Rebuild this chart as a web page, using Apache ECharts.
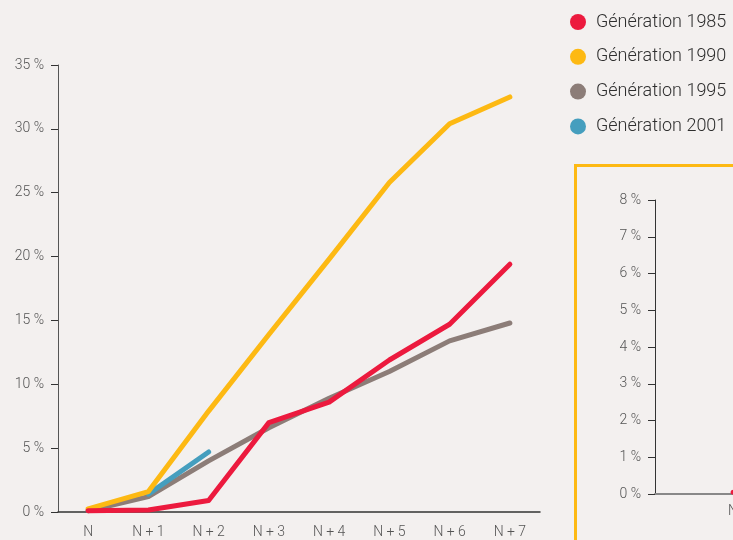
<!DOCTYPE html>
<html>
<head>
<meta charset="utf-8">
<script src="https://cdn.jsdelivr.net/npm/echarts@6/dist/echarts.min.js"></script>
<style>
  html, body { margin: 0; padding: 0; background: #f3f0ef; }
  #chart { width: 733px; height: 540px; }
</style>
</head>
<body>
<div id="chart"></div>
<script>
var categories = ['N', 'N + 1', 'N + 2', 'N + 3', 'N + 4', 'N + 5', 'N + 6', 'N + 7'];
var gen1985 = [0.1, 0.15, 0.9, 7.0, 8.6, 11.9, 14.7, 19.4];
var gen1990 = [0.25, 1.6, 7.9, 13.9, 19.8, 25.8, 30.4, 32.5];
var gen1995 = [0.1, 1.2, 4.0, 6.6, 8.9, 11.0, 13.4, 14.8];
var gen2001 = ['-', 1.4, 4.7];
var insetCategories = ['N', 'N + 1', 'N + 2', 'N + 3'];
var inset1985 = [0.05, 0.1];

chart01();
function chart01(){
  var myChart = echarts.init(document.getElementById('chart'));
  var font = 'Roboto';
  function line(name, data, color, z, xi, yi){
    return {
      name: name,
      type: 'line',
      xAxisIndex: xi || 0,
      yAxisIndex: yi || 0,
      data: data,
      z: z,
      symbol: 'none',
      silent: true,
      lineStyle: { width: 5, color: color, cap: 'round', join: 'round' },
      itemStyle: { color: color }
    };
  }
  var option = {
    backgroundColor: '#f3f0ef',
    animation: false,
    textStyle: { fontFamily: font },
    legend: {
      orient: 'vertical',
      left: 565,
      top: 8,
      icon: 'circle',
      itemWidth: 16,
      itemHeight: 16,
      itemGap: 16.8,
      textStyle: { color: '#2e2e2e', fontSize: 18, fontWeight: 300, fontFamily: font, padding: [0, 0, 0, 5] },
      data: ['Génération 1985', 'Génération 1990', 'Génération 1995', 'Génération 2001']
    },
    graphic: [{
      type: 'rect',
      shape: { x: 575.5, y: 165.5, width: 300, height: 500 },
      style: { fill: 'none', stroke: '#fdb913', lineWidth: 3 },
      z: 0
    }],
    grid: [
      { left: 58, right: 193, top: 65, bottom: 28, outerBoundsMode: 'none' },
      { left: 655, width: 624, top: 200, bottom: 46, outerBoundsMode: 'none' }
    ],
    xAxis: [{
      type: 'category',
      gridIndex: 0,
      data: categories,
      boundaryGap: true,
      axisLine: { lineStyle: { color: '#333', width: 1.5 } },
      axisTick: { show: false },
      axisLabel: { color: '#555', fontSize: 14, fontWeight: 300, margin: 13 }
    }, {
      type: 'category',
      gridIndex: 1,
      data: insetCategories,
      boundaryGap: true,
      axisLine: { lineStyle: { color: '#888', width: 2 } },
      axisTick: { show: false },
      axisLabel: { color: '#555', fontSize: 14, fontWeight: 300, margin: 10 }
    }],
    yAxis: [{
      type: 'value',
      gridIndex: 0,
      min: 0,
      max: 35,
      interval: 5,
      axisLine: { show: true, lineStyle: { color: '#555' } },
      axisTick: { show: true, length: 7, lineStyle: { color: '#333' } },
      splitLine: { show: false },
      axisLabel: { color: '#555', fontSize: 14, fontWeight: 300, margin: 14, formatter: '{value} %' }
    }, {
      type: 'value',
      gridIndex: 1,
      min: 0,
      max: 8,
      interval: 1,
      axisLine: { show: true, lineStyle: { color: '#333' } },
      axisTick: { show: true, length: 7, lineStyle: { color: '#333' } },
      splitLine: { show: false },
      axisLabel: { color: '#555', fontSize: 14, fontWeight: 300, margin: 14, formatter: '{value} %' }
    }],
    series: [
      line('Génération 1985', gen1985, '#ec1a3e', 5),
      line('Génération 1990', gen1990, '#fdb913', 4),
      line('Génération 1995', gen1995, '#8c7d78', 2),
      line('Génération 2001', gen2001, '#459ebe', 3),
      line('inset 1985', inset1985, '#ec1a3e', 5, 1, 1)
    ]
  };
  myChart.setOption(option);
}
</script>
</body>
</html>
